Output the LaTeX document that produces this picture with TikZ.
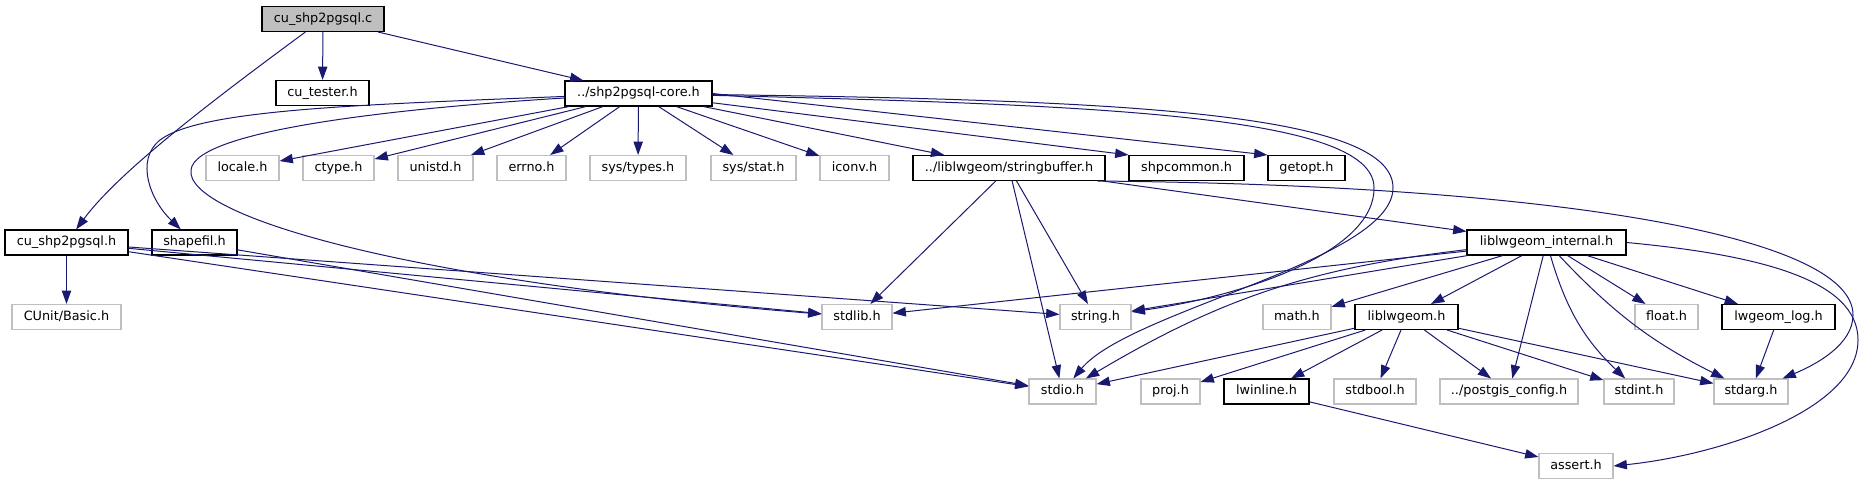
\documentclass[tikz,border=0pt]{standalone}
\usepackage{fontspec}
\setmainfont{DejaVu Sans}
\usetikzlibrary{arrows.meta}
\usetikzlibrary{calc}
\definecolor{edgeblue}{RGB}{25,25,112}
\definecolor{grey75}{RGB}{191,191,191}

\begin{document}
\begin{tikzpicture}[x=0.75pt, y=-0.75pt,
    box/.style={draw=black, line width=0.8pt, inner sep=0pt, minimum height=18.75pt,
        text height=7.2pt, text depth=2.1pt, font=\fontsize{9.6}{11}\selectfont},
    doc/.style={box},
    ext/.style={box, draw=grey75},
    wd/.style={minimum width=#1*0.75pt},
    inc/.style={draw=edgeblue, line width=0.75pt, -{Triangle[length=10pt, width=7pt]}}]
    \useasboundingbox (0,0) rectangle (1863,485);

    \draw (323,19) node[box, fill=grey75, wd=122] (top) {cu\_shp2pgsql.c};

    \draw (322.5,93) node[doc, wd=93] (tester) {cu\_tester.h};
    \draw (638.5,93.5) node[doc, wd=147] (core) {../shp2pgsql-core.h};

    \draw (242.5,168) node[ext, wd=73] (locale) {locale.h};
    \draw (338.5,168) node[ext, wd=71] (ctype) {ctype.h};
    \draw (435.5,168) node[ext, wd=75] (unistd) {unistd.h};
    \draw (531.5,168) node[ext, wd=69] (errno) {errno.h};
    \draw (638,168) node[ext, wd=96] (systypes) {sys/types.h};
    \draw (753.5,168) node[ext, wd=85] (sysstat) {sys/stat.h};
    \draw (854.5,168) node[ext, wd=69] (iconv) {iconv.h};
    \draw (1009,168) node[doc, wd=192] (strbuf) {../liblwgeom/stringbuffer.h};
    \draw (1186.5,168) node[doc, wd=115] (shpcommon) {shpcommon.h};
    \draw (1306.5,168) node[doc, wd=77] (getopt) {getopt.h};

    \draw (66.5,242.5) node[doc, wd=123] (cushph) {cu\_shp2pgsql.h};
    \draw (194.5,242.5) node[doc, wd=85] (shapefil) {shapefil.h};
    \draw (1546.5,242.5) node[doc, wd=159] (internal) {liblwgeom\_internal.h};

    \draw (66.5,317) node[ext, wd=109] (cunit) {CUnit/Basic.h};
    \draw (857,317) node[ext, wd=70] (stdlib) {stdlib.h};
    \draw (1095.5,317) node[ext, wd=71] (string) {string.h};
    \draw (1297,317) node[ext, wd=68] (math) {math.h};
    \draw (1406.5,317) node[doc, wd=103] (liblwgeom) {liblwgeom.h};
    \draw (1666.5,317) node[ext, wd=63] (float) {float.h};
    \draw (1778.5,317) node[doc, wd=113] (lwlog) {lwgeom\_log.h};

    \draw (1062.5,391.5) node[ext, wd=67] (stdio) {stdio.h};
    \draw (1170.5,391.5) node[ext, wd=59] (proj) {proj.h};
    \draw (1266.5,391.5) node[doc, wd=85] (lwinline) {lwinline.h};
    \draw (1375,391.5) node[ext, wd=82] (stdbool) {stdbool.h};
    \draw (1509,391.5) node[ext, wd=138] (pgconfig) {../postgis\_config.h};
    \draw (1639,391.5) node[ext, wd=70] (stdint) {stdint.h};
    \draw (1751,391.5) node[ext, wd=74] (stdarg) {stdarg.h};

    \draw (1576,466) node[ext, wd=74] (assert) {assert.h};

    \draw[inc] (top) -- (tester);
    \draw[inc] (top) -- (core);
    \draw[inc] (top) .. controls (220,95) and (120,170) .. (cushph);

    \draw[inc] (core) -- (locale);
    \draw[inc] (core) -- (ctype);
    \draw[inc] (core) -- (unistd);
    \draw[inc] (core) -- (errno);
    \draw[inc] (core) -- (systypes);
    \draw[inc] (core) -- (sysstat);
    \draw[inc] (core) -- (iconv);
    \draw[inc] (core) -- (strbuf);
    \draw[inc] (core) -- (shpcommon.north west);
    \draw[inc] (core.east) -- (getopt.north west);
    \draw[inc] (core) .. controls (350,105) and (200,110) .. (160,140)
        .. controls (135,160) and (150,200) .. (shapefil);
    \draw[inc] (core) .. controls (400,108) and (195,130) .. (191,170)
        .. controls (185,215) and (400,280) .. (stdlib);
    \draw[inc] (core) .. controls (1100,105) and (1372,115) .. (1374,187)
        .. controls (1376,250) and (1250,295) .. (string);
    \draw[inc] (core) .. controls (1100,100) and (1391,110) .. (1393,187)
        .. controls (1395,260) and (1130,310) .. (stdio);

    \draw[inc] (cushph) -- (cunit);
    \draw[inc] (cushph) -- (stdlib);
    \draw[inc] (cushph) -- (string);
    \draw[inc] (cushph) -- (stdio);
    \draw[inc] (shapefil) -- (stdio);

    \draw[inc] (strbuf) -- (stdlib);
    \draw[inc] (strbuf) -- (string);
    \draw[inc] (strbuf) -- (stdio);
    \draw[inc] (strbuf) -- (internal);
    \draw[inc] ($(strbuf.south east)+(-8,0)$) .. controls (1550,185) and (1853,235) .. (1853,315)
        .. controls (1853,345) and (1815,365) .. (stdarg);

    \draw[inc] (internal) -- (stdlib);
    \draw[inc] (internal) -- (string);
    \draw[inc] (internal) to[bend right=12] (stdio);
    \draw[inc] (internal) -- (math);
    \draw[inc] (internal) -- (liblwgeom);
    \draw[inc] (internal) -- (pgconfig);
    \draw[inc] (internal) to[bend right=15] (stdint);
    \draw[inc] (internal) to[bend right=10] (stdarg);
    \draw[inc] (internal) -- (float);
    \draw[inc] (internal) -- (lwlog);
    \draw[inc] (internal.east) .. controls (1760,255) and (1858,280) .. (1858,340)
        .. controls (1858,410) and (1720,455) .. (assert.east);

    \draw[inc] (liblwgeom) -- (stdio);
    \draw[inc] (liblwgeom) -- (proj);
    \draw[inc] (liblwgeom) -- (lwinline);
    \draw[inc] (liblwgeom) -- (stdbool);
    \draw[inc] (liblwgeom) -- (pgconfig);
    \draw[inc] (liblwgeom) -- (stdint);
    \draw[inc] (liblwgeom) -- (stdarg);

    \draw[inc] (lwlog) -- (stdarg);
    \draw[inc] (lwinline) -- (assert);
\end{tikzpicture}
\end{document}
